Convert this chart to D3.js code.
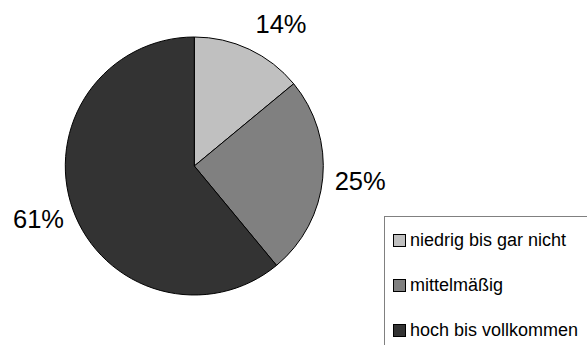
<!DOCTYPE html>
<html><head><meta charset="utf-8">
<script src="https://cdn.jsdelivr.net/npm/d3@7"></script>
<style>html,body{margin:0;padding:0;background:#fff;}svg{display:block;}</style>
</head><body>
<svg id="chart" width="587" height="345"></svg>
<script>
const categories = ["niedrig bis gar nicht", "mittelmäßig", "hoch bis vollkommen"];
const values = [14, 25, 61];
const labels = ["14%", "25%", "61%"];
const colors = ["#C0C0C0", "#808080", "#333333"];

const svg = d3.select("#chart");
const cx = 194.3, cy = 166, r = 129;
const font = "'Liberation Sans', Arial, sans-serif";

const pie = d3.pie().sort(null).value(d => d);
const arcs = pie(values);
const arc = d3.arc().innerRadius(0).outerRadius(r);

const g = svg.append("g").attr("transform", `translate(${cx},${cy})`);
g.selectAll("path").data(arcs).enter().append("path")
  .attr("d", arc)
  .attr("fill", (d, i) => colors[i])
  .attr("stroke", "#000")
  .attr("stroke-width", 1)
  .attr("stroke-linejoin", "round");

// labels outside
const lr = r + 10;
g.selectAll("text.lab").data(arcs).enter().append("text")
  .attr("class", "lab")
  .each(function(d, i) {
    const a = (d.startAngle + d.endAngle) / 2;
    const px = lr * Math.sin(a), py = -lr * Math.cos(a);
    const s = Math.sin(a) >= 0;
    const centerY = py - Math.cos(a) * 17.7;
    d3.select(this)
      .attr("x", s ? px + 2 : px + 0.5)
      .attr("y", centerY + 9.2)
      .attr("text-anchor", s ? "start" : "end");
  })
  .attr("font-family", font)
  .attr("font-size", 25.5)
  .attr("fill", "#000")
  .text((d, i) => labels[i]);

// legend
const lg = svg.append("g");
lg.append("rect")
  .attr("x", 384.5).attr("y", 216.5)
  .attr("width", 230).attr("height", 160)
  .attr("fill", "#fff").attr("stroke", "#808080").attr("stroke-width", 1);

const ly = d3.scalePoint().domain(categories).range([240, 329.7]);
const items = lg.selectAll("g.item").data(categories).enter().append("g").attr("class", "item");
items.append("rect")
  .attr("x", 393.5).attr("y", d => Math.round(ly(d) - 6) + 0.5)
  .attr("width", 12).attr("height", 12)
  .attr("fill", (d, i) => colors[i])
  .attr("stroke", "#000").attr("stroke-width", 1);
items.append("text")
  .attr("x", 410).attr("y", d => ly(d) + 6.3)
  .attr("font-family", font).attr("font-size", 18)
  .attr("fill", "#000")
  .text(d => d);
</script>
</body></html>
